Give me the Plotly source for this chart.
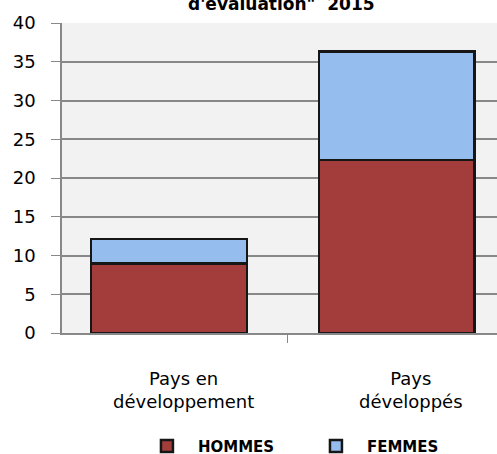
import plotly.graph_objects as go

# Data
CATEGORIES = ["Pays en développement", "Pays développés"]
CATEGORY_LABELS = ["Pays en<br>développement", "Pays<br>développés"]
HOMMES = [9.0, 22.3]
FEMMES = [3.15, 14.0]
Y_TICKS = [0, 5, 10, 15, 20, 25, 30, 35, 40]

COLORS = {
    "hommes": "#A23D3B",
    "femmes": "#95BDEE",
    "outline": "#161616",
    "grid": "#888888",
    "plot_bg": "#F2F2F2",
}
FONT = "'DejaVu Sans', sans-serif"

fig = go.Figure()

fig.add_trace(go.Bar(
    x=CATEGORIES, y=HOMMES, name="HOMMES",
    marker=dict(color=COLORS["hommes"], line=dict(color=COLORS["outline"], width=2.5)),
    width=0.684,
))
fig.add_trace(go.Bar(
    x=CATEGORIES, y=FEMMES, name="FEMMES",
    marker=dict(color=COLORS["femmes"], line=dict(color=COLORS["outline"], width=2.5)),
    width=0.684,
))

# category labels sit a little right of the bar centres in the original
for cat, label in zip(CATEGORIES, CATEGORY_LABELS):
    fig.add_annotation(
        x=cat, y=0, xref="x", yref="y", text=label, showarrow=False,
        yanchor="top", yshift=-33, xshift=14,
        font=dict(size=18, color="#000000", family=FONT),
    )

# title is cut off by the top edge of the image
fig.add_annotation(
    x=0.5, y=1, xref="paper", yref="paper", text="<b>d'évaluation\"  2015</b>",
    showarrow=False, yanchor="bottom", yshift=7, xshift=2,
    font=dict(size=17, color="#000000", family=FONT),
)

fig.update_layout(
    width=497, height=454,
    margin=dict(l=62, r=0, t=23, b=121, autoexpand=False),
    barmode="stack",
    paper_bgcolor="white",
    plot_bgcolor=COLORS["plot_bg"],
    font=dict(family=FONT, size=18, color="#000000"),
    showlegend=True,
    legend=dict(
        orientation="h", x=0.170, y=-0.365, xanchor="left", yanchor="middle",
        font=dict(size=15, family=FONT, weight="bold"),
        entrywidth=102, itemwidth=52,
        bgcolor="rgba(0,0,0,0)", traceorder="normal",
    ),
    xaxis=dict(
        range=[-0.47, 1.44], showgrid=False,
        showline=True, linecolor=COLORS["grid"], linewidth=1.5,
        tickmode="array", tickvals=[0.52], ticktext=[""],
        ticks="outside", ticklen=8, tickcolor=COLORS["grid"],
    ),
    yaxis=dict(
        range=[0, 40], tickvals=Y_TICKS,
        showgrid=True, gridcolor=COLORS["grid"], gridwidth=1.5,
        showline=True, linecolor=COLORS["grid"], linewidth=1.5,
        ticks="outside", ticklen=9, tickcolor=COLORS["grid"],
        ticklabelstandoff=12, zeroline=False,
        tickfont=dict(size=18, family=FONT),
    ),
)

# drop the browser's default body margin so the figure sits at the top-left corner
fig.write_html(
    "out.html",
    config={"displayModeBar": False},
    post_script="document.body.style.margin='0';",
)
